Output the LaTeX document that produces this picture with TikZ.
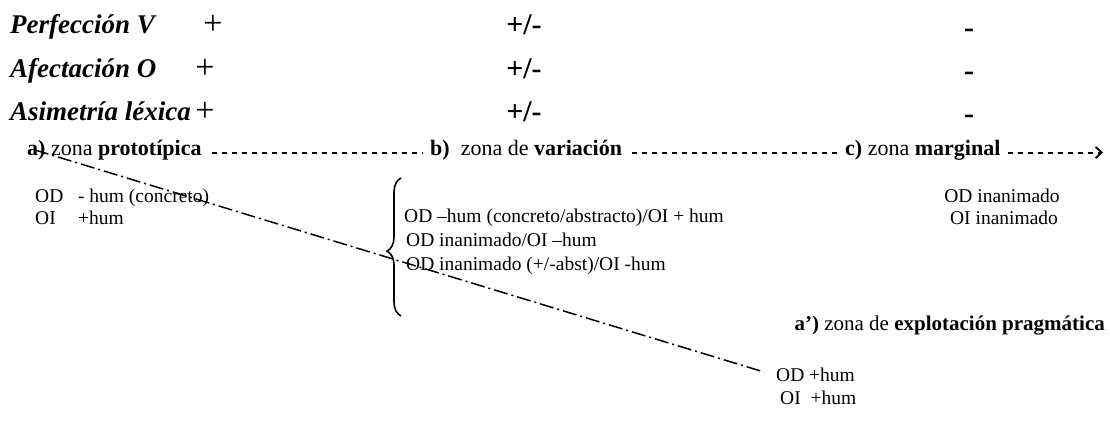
\documentclass[tikz,border=0pt]{standalone}
\usepackage{fontspec}
\setmainfont{Liberation Serif}
\usetikzlibrary{decorations.pathreplacing,arrows.meta}
\begin{document}
\begin{tikzpicture}[x=1pt,y=-1pt,
  hd/.style={font=\fontsize{27}{31}\selectfont\bfseries\itshape, inner sep=0pt, anchor=base west},
  sym/.style={font=\fontsize{34}{38}\selectfont, inner sep=0pt, anchor=base},
  symb/.style={font=\fontsize{30}{34}\selectfont\bfseries, inner sep=0pt, anchor=base},
  zone/.style={font=\fontsize{22}{26}\selectfont, inner sep=0pt, anchor=base west, text height=0.5em, text depth=0pt},
  small/.style={font=\fontsize{19.5}{23}\selectfont, inner sep=0pt, anchor=base west},
  zdash/.style={line width=2pt, dash pattern=on 5pt off 5pt},
  dashdot/.style={line width=1.5pt, dash pattern=on 14pt off 4pt on 2pt off 4pt},
  bracestyle/.style={line width=1.6pt, decorate, decoration={brace, amplitude=14pt, aspect=0.47}}
]
\useasboundingbox (0,0) rectangle (1110,445);
% feature rows
\node[hd] (perf) at (10,33) {Perfección V};
\node[hd] (afec) at (10,77) {Afectación O};
\node[hd] (asim) at (10,120) {Asimetría léxica};
\node[sym] (p1) at (213,34) {+};
\node[sym] (p2) at (205,78) {+};
\node[sym] (p3) at (205,121) {+};
\node[symb] (pm1) at (524,34) {+/-};
\node[symb] (pm2) at (524,78) {+/-};
\node[symb] (pm3) at (524,121) {+/-};
\node[symb] (m1) at (969,37) {-};
\node[symb] (m2) at (969,80) {-};
\node[symb] (m3) at (969,123) {-};
% zones
\node[zone] (za) at (27,155) {\textbf{a)} zona \textbf{prototípica}};
\node[zone] (zb) at (430,155) {\textbf{b)} \ zona de \textbf{variación}};
\node[zone] (zc) at (845,155) {\textbf{c)} zona \textbf{marginal}};
\coordinate (zend) at (1103,0 |- zc.east);
\draw[zdash] ([xshift=10pt]za.east) -- ([xshift=-8pt]zb.west);
\draw[zdash] ([xshift=10pt]zb.east) -- ([xshift=-8pt]zc.west);
\draw[zdash, -{Straight Barb[length=6pt,width=11pt,line width=1.8pt]}] ([xshift=7pt]zc.east) -- (zend);
% prototypical zone
\node[small] (pa1) at (35,202) {\makebox[2.2em][l]{OD}- hum (concreto)};
\node[small] (pa2) at (35,224) {\makebox[2.2em][l]{OI}+hum};
% variation zone
\coordinate (bbot) at (401,316);
\coordinate (btop) at (401,178);
\draw[bracestyle] (bbot) -- (btop);
\node[small] (vb1) at (404,222) {OD –hum (concreto/abstracto)/OI + hum};
\node[small] (vb2) at (406,246) {OD inanimado/OI –hum};
\node[small] (vb3) at (406,270) {OD inanimado (+/-abst)/OI -hum};
% marginal zone
\node[small, anchor=base] (mc1) at (1002,202) {OD inanimado};
\node[small, anchor=base] (mc2) at (1004,224) {OI inanimado};
% pragmatic zone
\node[zone, font=\fontsize{21}{25}\selectfont, anchor=base east] (zp) at (1105,330) {\textbf{a’)} zona de \textbf{explotación pragmática}};
\node[small] (pp1) at (776,381) {OD +hum};
\node[small] (pp2) at (780,404) {OI \ +hum};
% dash-dot line
\coordinate (ls) at (35,150);
\coordinate (le) at (764,372);
\draw[dashdot] (ls) -- (le);
\end{tikzpicture}
\end{document}
